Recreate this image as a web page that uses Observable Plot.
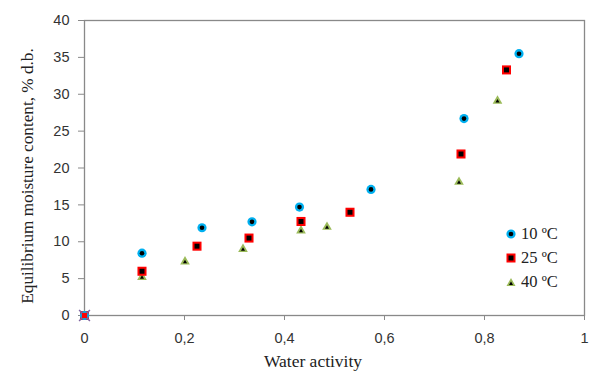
<!DOCTYPE html>
<html>
<head>
<meta charset="utf-8">
<script src="https://cdn.jsdelivr.net/npm/d3@7"></script>
<script src="https://cdn.jsdelivr.net/npm/@observablehq/plot@0.6"></script>
<style>
  body { margin: 0; background: #fff; }
  #wrap { position: relative; width: 590px; height: 372px; overflow: hidden; }
  .ytitle { position: absolute; left: 28px; top: 176px; transform: translate(-50%, -50%) rotate(-90deg);
    font-family: "Liberation Serif", "Times New Roman", serif; font-size: 17.2px; white-space: nowrap; color: #222; }
  .xtitle { position: absolute; left: 313px; top: 351px; transform: translateX(-50%);
    font-family: "Liberation Serif", "Times New Roman", serif; font-size: 17.5px; white-space: nowrap; color: #222; }
  .legend { position: absolute; left: 505px; top: 222px; font-family: "Liberation Serif", "Times New Roman", serif; font-size: 16.5px; color: #222; }
  .legend .row { display: flex; align-items: center; height: 24px; }
  .legend svg { margin-right: 4px; }
</style>
</head>
<body>
<div id="wrap"></div>
<script>
// Data
const seriesNames = ["10 ºC", "25 ºC", "40 ºC"];
const aw10 = [0, 0.115, 0.235, 0.335, 0.430, 0.573, 0.759, 0.869];
const emc10 = [0, 8.45, 11.9, 12.7, 14.7, 17.1, 26.7, 35.5];
const aw25 = [0, 0.115, 0.225, 0.329, 0.433, 0.531, 0.753, 0.844];
const emc25 = [0, 6.0, 9.4, 10.5, 12.75, 14.0, 21.9, 33.3];
const aw40 = [0, 0.115, 0.201, 0.317, 0.433, 0.485, 0.749, 0.826];
const emc40 = [0, 5.2, 7.3, 9.0, 11.5, 12.0, 18.1, 29.1];
const originAw = [0];
const originEmc = [0];
const xTicks = [0, 0.2, 0.4, 0.6, 0.8, 1];
const yTicks = [0, 5, 10, 15, 20, 25, 30, 35, 40];

const mk = (aw, emc) => aw.map((a, i) => ({aw: a, emc: emc[i]}));
const d10 = mk(aw10, emc10), d25 = mk(aw25, emc25), d40 = mk(aw40, emc40), d0 = mk(originAw, originEmc);

const blue = "#00b0f0", red = "#ff0000", green = "#9bbb59", gray = "#898989";
const fmtX = d => d === 0 ? "0" : d === 1 ? "1" : d.toFixed(1).replace(".", ",");
const fmtY = d => String(d);

const chart = Plot.plot({
  width: 590, height: 372,
  marginLeft: 84, marginRight: 6, marginTop: 20, marginBottom: 57,
  style: {fontFamily: "'Liberation Sans', Arial, sans-serif", fontSize: "14px", background: "#fff"},
  x: {domain: [0, 1]},
  y: {domain: [0, 40]},
  marks: [
    Plot.frame({stroke: gray, strokeWidth: 1.3}),
    Plot.axisY({ticks: yTicks, tickFormat: fmtY, tickSize: 6, tickPadding: 9, stroke: gray, color: "#333", label: null, fontSize: 14.5}),
    Plot.axisX({ticks: xTicks, tickFormat: fmtX, tickSize: 5, tickPadding: 12, stroke: gray, color: "#333", label: null, fontSize: 14.5}),
    // 40 °C triangles
    Plot.dot(d40, {x: "aw", y: "emc", symbol: "triangle", r: 3.6, fill: green}),
    Plot.dot(d40, {x: "aw", y: "emc", symbol: "triangle", r: 1.5, fill: "#000", dy: 0.5}),
    // 25 °C squares
    Plot.dot(d25, {x: "aw", y: "emc", symbol: "square", r: 5.1, fill: red}),
    Plot.dot(d25, {x: "aw", y: "emc", symbol: "square", r: 2.8, fill: "#000"}),
    // 10 °C circles
    Plot.dot(d10, {x: "aw", y: "emc", symbol: "circle", r: 4.6, fill: blue}),
    Plot.dot(d10, {x: "aw", y: "emc", symbol: "circle", r: 2.3, fill: "#000"}),
    // origin cross
    Plot.dot(d0, {x: "aw", y: "emc", symbol: "times", r: 5, stroke: "#8064a2", strokeWidth: 1.5}),
    Plot.dot(d0, {x: "aw", y: "emc", symbol: "square", r: 3, fill: red})
  ]
});

const wrap = document.getElementById("wrap");
wrap.appendChild(chart);

const yt = document.createElement("div");
yt.className = "ytitle";
yt.textContent = "Equilibrium moisture content,  % d.b.";
wrap.appendChild(yt);

const xt = document.createElement("div");
xt.className = "xtitle";
xt.textContent = "Water activity";
wrap.appendChild(xt);

const legend = document.createElement("div");
legend.className = "legend";
const symbols = [
  `<svg width="12" height="12"><circle cx="6" cy="6" r="4.6" fill="${blue}"/><circle cx="6" cy="6" r="2.3" fill="#000"/></svg>`,
  `<svg width="12" height="12"><rect x="1.5" y="1.5" width="9" height="9" fill="${red}"/><rect x="3.5" y="3.5" width="5" height="5" fill="#000"/></svg>`,
  `<svg width="12" height="12"><path d="M6,2 L10.5,10 L1.5,10 Z" fill="${green}"/><path d="M6,5.5 L8,9 L4,9 Z" fill="#000"/></svg>`
];
seriesNames.forEach((n, i) => {
  const row = document.createElement("div");
  row.className = "row";
  row.innerHTML = symbols[i] + `<span>${n}</span>`;
  legend.appendChild(row);
});
wrap.appendChild(legend);
</script>
</body>
</html>
